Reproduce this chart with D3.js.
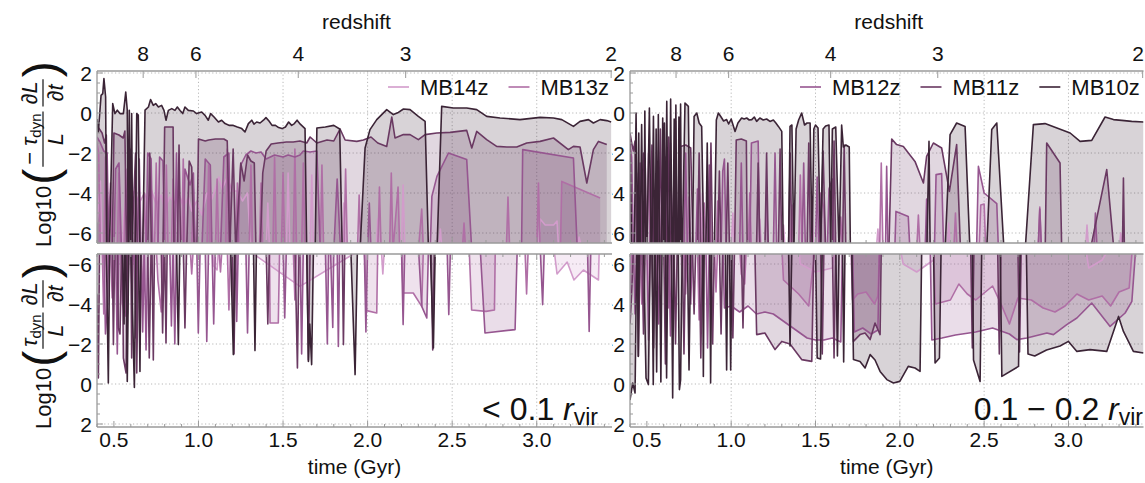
<!DOCTYPE html>
<html>
<head>
<meta charset="utf-8">
<script src="https://cdn.jsdelivr.net/npm/d3@7"></script>
<style>
  body { margin: 0; background: #fff; }
  svg text { font-family: "Liberation Sans", Arial, Helvetica, sans-serif; fill: #111; }
</style>
</head>
<body>
<svg id="chart" width="1145" height="483"></svg>
<script>
// --- data ---
const O = -9; // below the plotted range (line runs off the inner edge)

const seriesNames = ["MB14z", "MB13z", "MB12z", "MB11z", "MB10z"];
const seriesColors = ["#d29ccb", "#b06fa6", "#965690", "#6a3962", "#3b2436"];

const timeTicks = [0.5, 1.0, 1.5, 2.0, 2.5, 3.0];
const timeGrid = [1.0, 1.5, 2.0, 2.5, 3.0];
const redshiftLabels = [8, 6, 4, 3, 2];
const redshiftTimes = [0.673, 0.985, 1.59, 2.225, 3.44];
const logTicks = [2, 0, -2, -4, -6];

// left panel (< 0.1 rvir), upper half: log10(-tau dL/dt / L)
const leftTopMB14 = [[0.40,-5.5],[0.42,-3.4],[0.43,O],[0.46,O],[0.47,-5.8],[0.50,-5.9],[0.51,O],[0.55,O],[0.56,-5.0],[0.58,-4.1],[0.60,-4.3],[0.62,-3.9],[0.65,-4.5],[0.68,-4.0],[0.70,-4.4],[0.72,-3.8],[0.75,-4.6],[0.78,-4.1],[0.80,-4.8],[0.83,-4.2],[0.86,-4.5],[0.88,-3.9],[0.91,-4.7],[0.94,-4.2],[0.96,-4.9],[0.99,-4.4],[1.02,-5.1],[1.05,-4.0],[1.08,-4.3],[1.12,-3.2],[1.14,-3.8],[1.17,-3.2],[1.20,-3.9],[1.23,-3.9],[1.26,-4.4],[1.29,-4.0],[1.31,O],[1.40,O],[1.41,-4.5],[1.42,O],[1.52,O],[1.53,-3.0],[1.54,O],[1.66,O],[1.67,-3.1],[1.68,O],[1.85,O],[1.86,-4.5],[1.87,O],[2.05,O],[2.06,-5.3],[2.07,O],[2.20,O],[2.21,-3.6],[2.22,O],[2.42,O],[2.43,-5.8],[2.44,O],[3.01,O],[3.02,-5.3],[3.05,-5.6],[3.10,-5.6],[3.12,-5.4],[3.13,O],[3.24,O],[3.25,-6.2],[3.27,O]];
const leftTopMB13 = [[0.40,-1.5],[0.41,-2.0],[0.42,O],[0.44,O],[0.45,-2.2],[0.46,O],[0.48,-3.5],[0.49,O],[0.52,O],[0.53,-3.0],[0.54,O],[0.56,O],[0.57,-2.8],[0.58,O],[0.62,O],[0.63,-3.2],[0.64,O],[0.67,O],[0.68,-4.0],[0.69,O],[0.74,O],[0.75,-2.5],[0.76,O],[0.80,O],[0.81,-2.6],[0.82,O],[0.84,O],[0.85,-3.3],[0.86,O],[0.90,O],[0.91,-2.3],[0.92,O],[0.96,O],[0.97,-3.8],[0.98,O],[1.05,O],[1.06,-2.6],[1.07,O],[1.10,O],[1.11,-3.3],[1.12,O],[1.16,O],[1.17,-1.8],[1.18,O],[1.22,O],[1.23,-3.5],[1.24,O],[1.30,O],[1.31,-2.6],[1.32,O],[1.36,O],[1.37,-3.5],[1.38,O],[1.44,O],[1.45,-2.2],[1.46,O],[1.49,O],[1.50,-3.0],[1.51,O],[1.56,O],[1.57,-1.8],[1.58,O],[1.61,O],[1.62,-2.5],[1.63,O],[1.72,O],[1.73,-2.6],[1.74,O],[1.86,O],[1.87,-2.8],[1.88,O],[1.94,O],[1.95,-4.1],[1.96,O],[2.06,O],[2.07,-3.7],[2.08,O],[2.13,O],[2.14,-3.0],[2.15,O],[2.18,-3.7],[2.19,O],[2.30,O],[2.32,-4.8],[2.33,O],[2.56,O],[2.57,-5.5],[2.58,O],[2.82,O],[2.83,-4.2],[2.84,O],[3.00,O],[3.01,-3.5],[3.02,O],[3.14,O],[3.148,-3.42],[3.375,-4.25]];
const leftTopMB12 = [[0.40,-1.2],[0.42,-1.5],[0.44,-1.9],[0.46,-2.0],[0.47,O],[0.50,O],[0.51,-2.8],[0.53,-2.5],[0.545,O],[0.58,O],[0.59,-1.8],[0.60,O],[0.64,O],[0.65,-2.3],[0.66,O],[0.69,O],[0.70,-2.0],[0.72,-2.3],[0.73,O],[0.76,O],[0.77,-2.2],[0.79,-2.4],[0.80,O],[0.86,O],[0.87,-2.0],[0.88,O],[0.91,O],[0.92,-2.8],[0.95,-3.6],[0.97,-3.0],[0.98,O],[1.02,O],[1.04,-2.3],[1.07,-2.6],[1.08,O],[1.13,O],[1.15,-2.2],[1.18,-2.0],[1.19,O],[1.23,O],[1.25,-2.6],[1.28,-2.1],[1.31,-1.9],[1.34,-2.0],[1.37,-1.95],[1.40,-2.3],[1.45,-2.1],[1.50,-2.2],[1.53,-2.1],[1.57,-2.2],[1.60,-2.1],[1.62,-1.9],[1.66,-1.95],[1.70,-1.9],[1.72,O],[1.80,O],[1.82,-3.3],[1.84,O],[2.00,O],[2.01,-4.5],[2.02,O],[2.37,O],[2.38,-4.17],[2.41,-3.17],[2.478,-2.0],[2.586,-2.33],[2.616,O],[2.91,O],[2.917,-1.83],[3.217,-2.25],[3.24,O]];
const leftTopMB11 = [[0.40,-0.6],[0.41,-0.75],[0.43,-1.0],[0.445,-1.5],[0.455,-1.1],[0.465,O],[0.49,O],[0.50,-1.0],[0.53,-1.1],[0.555,-1.25],[0.565,-0.9],[0.575,O],[0.595,-1.8],[0.605,O],[0.628,-2.0],[0.638,O],[0.70,O],[0.712,-2.0],[0.722,O],[0.79,O],[0.80,-0.7],[0.85,-0.7],[0.855,O],[0.875,O],[0.885,-1.6],[0.895,O],[0.93,O],[0.945,-2.4],[0.96,-2.7],[0.975,O],[0.99,O],[1.0,-1.3],[1.04,-1.4],[1.06,-1.35],[1.10,-1.3],[1.15,-1.3],[1.17,-1.4],[1.185,O],[1.205,-1.8],[1.22,O],[1.25,-2.5],[1.27,-3.4],[1.29,-2.1],[1.31,-2.4],[1.33,-2.5],[1.34,O],[1.365,O],[1.38,-3.0],[1.40,-1.9],[1.43,-1.55],[1.47,-1.5],[1.52,-1.45],[1.56,-1.45],[1.60,-1.4],[1.64,-1.5],[1.66,-1.2],[1.70,-1.5],[1.76,-1.35],[1.80,-1.4],[1.837,-0.8],[1.867,-1.35],[1.936,-1.42],[1.975,-1.35],[2.02,-1.2],[2.06,-1.5],[2.113,-1.67],[2.143,-0.2],[2.162,-1.25],[2.212,-1.08],[2.251,-1.08],[2.30,-1.33],[2.34,-1.08],[2.409,-1.0],[2.488,-0.97],[2.586,-0.87],[2.616,-1.75],[2.645,-0.92],[2.704,-1.33],[2.763,-1.67],[2.823,-1.7],[2.882,-1.7],[2.941,-1.5],[3.02,-1.42],[3.099,-1.25],[3.187,-1.83],[3.217,-1.67],[3.256,-1.7],[3.296,-3.5],[3.335,-1.83],[3.365,-1.42],[3.414,-1.58]];
const leftTopMB10 = [[0.40,-0.3],[0.408,-0.95],[0.424,0.88],[0.434,0.97],[0.441,1.72],[0.451,0.8],[0.457,O],[0.473,O],[0.493,0.47],[0.506,-0.03],[0.52,0.14],[0.536,-0.03],[0.556,-0.03],[0.57,1.05],[0.579,0.14],[0.585,O],[0.591,0.14],[0.597,O],[0.605,-0.03],[0.611,O],[0.625,O],[0.635,-0.03],[0.644,-0.1],[0.654,O],[0.670,O],[0.684,0.14],[0.704,0.3],[0.717,0.67],[0.733,0.38],[0.747,0.47],[0.763,0.3],[0.782,0.38],[0.796,0.13],[0.808,-0.36],[0.822,0.13],[0.842,0.22],[0.861,0.13],[0.875,0.3],[0.891,0.13],[0.907,-0.03],[0.92,0.3],[0.94,0.13],[0.97,0.1],[0.989,-0.03],[1.019,0.05],[1.039,-0.12],[1.058,-0.36],[1.072,-0.03],[1.092,-0.2],[1.118,-0.45],[1.137,-0.36],[1.157,-0.53],[1.183,-0.62],[1.206,-0.62],[1.23,-0.7],[1.256,-0.78],[1.275,-0.95],[1.295,-0.53],[1.315,-0.36],[1.328,-0.56],[1.344,-0.45],[1.364,-0.5],[1.384,-0.36],[1.399,-0.23],[1.417,-0.4],[1.435,-0.62],[1.455,-0.62],[1.474,-0.73],[1.494,-0.78],[1.514,-0.7],[1.533,-0.45],[1.551,-0.62],[1.567,-0.53],[1.583,-0.36],[1.602,-0.56],[1.63,-0.78],[1.64,O],[1.69,O],[1.70,-0.75],[1.75,-0.7],[1.80,-0.62],[1.835,-0.8],[1.85,O],[1.955,O],[1.985,-1.75],[2.014,-0.83],[2.054,-0.33],[2.113,0.17],[2.152,-0.08],[2.182,0.03],[2.212,0.2],[2.251,0.17],[2.30,-0.17],[2.34,-0.42],[2.36,O],[2.41,O],[2.438,0.33],[2.507,0.25],[2.586,0.25],[2.645,0.17],[2.704,-0.17],[2.783,-0.25],[2.901,-0.33],[3.02,-0.22],[3.099,-0.25],[3.148,-0.33],[3.217,-0.67],[3.256,-0.42],[3.306,-0.33],[3.335,-0.5],[3.375,-0.33],[3.414,-0.38],[3.44,-0.45]];

// left panel, lower half: log10(+tau dL/dt / L)
const leftBotMB14 = [[0.40,O],[0.46,O],[0.47,-5.5],[0.48,O],[0.60,O],[0.61,-6.0],[0.63,O],[1.08,O],[1.09,-5.9],[1.11,-5.7],[1.12,O],[1.325,-6.5],[1.60,-4.88],[1.916,-6.5],[2.08,O],[2.09,-5.5],[2.10,O],[3.10,O],[3.12,-5.5],[3.18,-6.1],[3.22,-5.2],[3.276,-5.7],[3.365,-5.2],[3.37,O]];
const leftBotMB13 = [[0.40,O],[0.43,O],[0.44,-3.5],[0.45,O],[0.48,O],[0.49,-4.3],[0.50,O],[0.54,O],[0.55,-4.0],[0.57,-3.4],[0.58,O],[0.66,O],[0.67,-4.2],[0.68,O],[0.75,O],[0.76,-5.2],[0.78,-3.6],[0.79,O],[0.95,O],[0.96,-5.5],[0.97,O],[1.12,O],[1.13,-5.6],[1.14,O],[1.17,O],[1.18,-3.7],[1.19,O],[1.42,O],[1.423,-3.05],[1.472,-3.05],[1.48,O],[1.56,O],[1.57,-4.2],[1.58,O],[1.98,O],[1.995,-3.67],[2.054,-3.55],[2.06,O],[2.20,O],[2.21,-4.55],[2.27,-4.55],[2.32,-3.88],[2.33,O],[2.60,O],[2.615,-3.7],[2.70,-3.63],[2.75,-3.7],[2.755,O],[2.93,O],[2.94,-4.5],[2.95,O]];
const leftBotMB12 = [[0.40,O],[0.44,O],[0.45,-2.5],[0.46,-3.8],[0.47,O],[0.51,O],[0.52,-1.5],[0.53,O],[0.57,O],[0.58,-3.5],[0.59,O],[0.62,O],[0.63,-2.3],[0.64,O],[0.66,O],[0.67,-2.6],[0.68,O],[0.69,-1.7],[0.70,O],[0.83,O],[0.84,-2.9],[0.85,O],[0.86,-2.0],[0.87,O],[0.99,O],[0.999,-2.55],[1.01,O],[1.04,O],[1.049,-2.13],[1.06,O],[1.08,O],[1.09,-3.0],[1.10,O],[1.22,O],[1.226,-3.13],[1.235,O],[1.28,O],[1.29,-2.55],[1.30,O],[1.50,O],[1.51,-3.3],[1.52,O],[1.60,O],[1.61,-1.5],[1.62,O],[1.75,O],[1.762,-2.0],[1.77,O],[1.78,O],[1.794,-2.83],[1.80,O],[1.82,O],[1.827,-1.88],[1.835,O],[1.98,O],[1.99,-2.6],[2.0,O],[2.20,O],[2.21,-2.97],[2.22,O],[2.30,O],[2.32,-3.88],[2.35,-3.3],[2.36,O],[2.47,O],[2.48,-3.47],[2.49,O],[2.665,O],[2.694,-2.55],[2.872,-2.72],[2.885,O],[3.02,O],[3.035,-3.97],[3.045,O],[3.30,O],[3.31,-2.63],[3.32,O]];
const leftBotMB11 = [[0.40,-4.5],[0.408,-0.3],[0.415,O],[0.49,O],[0.497,-1.97],[0.505,O],[0.52,O],[0.526,-2.8],[0.536,-2.5],[0.546,O],[0.55,O],[0.556,-1.3],[0.572,-0.55],[0.58,O],[0.60,O],[0.605,-1.3],[0.612,O],[0.63,O],[0.635,-0.55],[0.645,O],[0.70,O],[0.709,-1.3],[0.72,O],[0.725,O],[0.733,-1.2],[0.74,O],[0.78,O],[0.788,-2.55],[0.797,O],[0.80,O],[0.808,-2.05],[0.815,O],[0.91,O],[0.92,-2.8],[0.93,O],[1.20,O],[1.21,-1.5],[1.22,O],[1.40,O],[1.41,-3.0],[1.42,O],[1.57,O],[1.585,-0.8],[1.595,O],[1.64,O],[1.65,-1.2],[1.66,O],[1.85,O],[1.857,-1.97],[1.865,O],[2.375,O],[2.385,-1.7],[2.395,O]];
const leftBotMB10 = [[0.40,O],[0.455,O],[0.467,-0.05],[0.475,O],[0.55,O],[0.56,-3.0],[0.565,O],[0.57,O],[0.579,-0.13],[0.588,O],[0.60,O],[0.621,0.17],[0.63,O],[0.645,O],[0.654,-0.63],[0.66,O],[0.87,O],[0.881,-1.97],[0.89,O],[1.19,O],[1.206,-1.47],[1.215,O],[1.325,O],[1.334,-1.67],[1.343,O],[1.64,O],[1.65,-1.13],[1.658,-3.0],[1.669,-0.97],[1.68,O],[1.90,O],[1.926,-0.47],[1.94,O],[2.37,O],[2.389,-1.8],[2.40,O]];

// right panel (0.1 - 0.2 rvir), upper half
const rightTopMB14 = [[0.40,-3.0],[0.41,O],[0.48,O],[0.49,-4.0],[0.50,O],[0.58,O],[0.59,-3.5],[0.60,O],[0.68,O],[0.69,-4.5],[0.70,O],[0.82,O],[0.83,-4.0],[0.84,O],[1.00,O],[1.01,-5.0],[1.02,O],[1.16,O],[1.17,-5.3],[1.18,O],[1.30,O],[1.31,-5.6],[1.32,O],[1.47,O],[1.48,-5.0],[1.49,O],[1.86,O],[1.87,-5.8],[1.88,O],[2.28,O],[2.29,-5.5],[2.30,O],[3.10,O],[3.11,-5.6],[3.12,O],[3.30,O],[3.31,-6.0],[3.32,O]];
const rightTopMB13 = [[0.40,-2.0],[0.41,O],[0.44,O],[0.45,-3.0],[0.46,O],[0.50,O],[0.51,-2.0],[0.52,O],[0.56,O],[0.57,-3.5],[0.58,O],[0.63,O],[0.64,-1.5],[0.65,O],[0.74,O],[0.75,-4.2],[0.76,O],[0.83,O],[0.84,-4.5],[0.85,O],[0.91,O],[0.92,-4.4],[0.93,O],[1.10,O],[1.11,-4.0],[1.12,O],[1.20,O],[1.21,-4.5],[1.22,O],[1.35,O],[1.36,-4.6],[1.37,O],[1.40,O],[1.41,-3.1],[1.42,O],[1.52,O],[1.53,-4.0],[1.55,-4.8],[1.56,O],[1.64,O],[1.65,-5.2],[1.66,O],[1.88,O],[1.89,-2.5],[1.90,O],[2.10,O],[2.11,-5.1],[2.12,O],[2.32,O],[2.33,-5.0],[2.34,O],[2.47,O],[2.48,-4.6],[2.50,-4.55],[2.51,O],[2.82,O],[2.83,-4.7],[2.84,O]];
const rightTopMB12 = [[0.40,-1.5],[0.41,-2.2],[0.42,O],[0.45,O],[0.46,-2.5],[0.47,O],[0.52,O],[0.53,-3.0],[0.54,O],[0.60,O],[0.61,-2.2],[0.62,O],[0.65,O],[0.66,-3.5],[0.67,O],[0.72,O],[0.73,-2.0],[0.74,O],[0.79,O],[0.80,-3.8],[0.81,O],[0.86,O],[0.87,-2.6],[0.88,O],[0.94,O],[0.95,-2.9],[0.96,-2.3],[0.97,O],[1.05,O],[1.06,-2.5],[1.07,O],[1.11,O],[1.12,-1.5],[1.16,-1.4],[1.17,O],[1.25,O],[1.26,-2.0],[1.27,O],[1.42,O],[1.43,-2.5],[1.44,O],[1.50,O],[1.51,-3.2],[1.52,O],[1.57,O],[1.58,-3.8],[1.60,-3.3],[1.61,O],[1.915,O],[1.922,-2.67],[1.93,O],[1.97,O],[1.977,-4.92],[2.05,-5.17],[2.06,O],[2.15,O],[2.159,-4.3],[2.165,O],[2.205,O],[2.215,-3.08],[2.248,-3.03],[2.26,O],[2.455,O],[2.466,-2.67],[2.50,-4.0],[2.575,-4.53],[2.585,O],[2.82,O],[2.83,-4.8],[2.84,O],[3.15,O],[3.16,-5.0],[3.17,O]];
const rightTopMB11 = [[0.40,-1.0],[0.41,-1.5],[0.42,-1.9],[0.43,-1.4],[0.44,O],[0.47,O],[0.48,-2.0],[0.49,-2.6],[0.50,O],[0.52,O],[0.53,-1.6],[0.54,O],[0.57,O],[0.58,-0.8],[0.59,O],[0.62,O],[0.63,-1.2],[0.64,O],[0.66,O],[0.67,-0.4],[0.68,O],[0.695,O],[0.70,-1.67],[0.73,-1.6],[0.76,-1.75],[0.775,O],[0.80,O],[0.81,-2.0],[0.82,O],[0.87,O],[0.88,-1.5],[0.89,O],[0.92,O],[0.93,-2.9],[0.94,O],[0.97,O],[0.98,-2.5],[0.99,O],[1.02,O],[1.03,-1.35],[1.06,-1.3],[1.09,-1.4],[1.095,O],[1.15,O],[1.16,-2.5],[1.17,O],[1.20,O],[1.21,-2.0],[1.22,O],[1.28,O],[1.29,-1.8],[1.30,O],[1.34,O],[1.35,-2.0],[1.36,O],[1.45,O],[1.46,-1.5],[1.47,O],[1.53,O],[1.545,-1.9],[1.56,O],[1.60,O],[1.61,-1.4],[1.62,O],[1.66,O],[1.67,-1.6],[1.68,O],[1.935,O],[1.952,-1.3],[1.981,-1.58],[2.021,-1.67],[2.09,-2.42],[2.14,-3.5],[2.159,-2.17],[2.199,-1.5],[2.248,-1.75],[2.294,-3.92],[2.337,-1.58],[2.36,O],[2.862,O],[2.871,-1.5],[2.95,-2.5],[2.96,O],[3.128,O],[3.227,-2.83],[3.27,O],[3.32,O],[3.326,-3.25],[3.332,O]];
const rightTopMB10 = [[0.40,-1.3],[0.41,O],[0.425,O],[0.436,0.0],[0.445,O],[0.448,O],[0.452,-1.0],[0.456,O],[0.46,O],[0.469,-0.58],[0.478,O],[0.482,O],[0.488,0.1],[0.494,O],[0.50,O],[0.515,0.25],[0.525,O],[0.53,O],[0.539,-0.17],[0.546,O],[0.55,O],[0.555,-0.8],[0.56,O],[0.562,O],[0.568,-0.08],[0.576,O],[0.586,O],[0.594,-0.25],[0.598,O],[0.60,O],[0.604,-0.5],[0.608,O],[0.61,O],[0.618,0.58],[0.626,O],[0.633,O],[0.641,0.7],[0.649,O],[0.655,O],[0.662,-0.3],[0.668,O],[0.672,0.4],[0.678,O],[0.685,O],[0.69,-0.2],[0.695,O],[0.70,0.45],[0.705,O],[0.71,O],[0.726,0.5],[0.746,0.33],[0.756,O],[0.77,O],[0.78,-0.17],[0.796,0.0],[0.81,-0.5],[0.825,-0.67],[0.838,O],[0.85,O],[0.858,-1.5],[0.866,O],[0.90,O],[0.912,-0.35],[0.924,0.0],[0.94,-0.2],[0.955,-0.4],[0.973,-0.33],[0.985,-0.55],[1.0,-0.3],[1.023,-0.92],[1.04,-0.5],[1.062,-0.25],[1.077,-0.3],[1.092,-0.25],[1.107,-0.35],[1.122,-0.33],[1.137,-0.2],[1.151,-0.42],[1.17,-0.25],[1.19,-0.35],[1.21,-0.3],[1.23,-0.42],[1.25,-0.35],[1.265,-0.5],[1.28,-0.67],[1.30,-0.92],[1.309,O],[1.34,O],[1.349,-0.67],[1.36,-0.6],[1.372,O],[1.385,-0.8],[1.40,-0.35],[1.418,0.0],[1.435,-0.6],[1.45,-0.5],[1.468,-0.5],[1.48,O],[1.49,-0.8],[1.50,-0.6],[1.515,-0.75],[1.53,O],[1.545,-0.8],[1.56,-0.65],[1.58,-0.6],[1.59,O],[1.60,-0.8],[1.62,-0.7],[1.64,O],[1.655,-0.6],[1.665,-1.7],[1.68,-1.6],[1.70,-1.7],[1.707,O],[2.16,O],[2.173,-1.42],[2.18,O],[2.268,O],[2.298,-1.08],[2.337,-0.5],[2.387,-0.67],[2.416,O],[2.515,O],[2.545,-0.83],[2.575,-0.5],[2.618,O],[2.743,O],[2.792,-0.58],[2.861,-0.53],[3.01,-1.0],[3.069,-1.42],[3.138,-1.37],[3.217,-0.2],[3.267,-0.33],[3.316,-0.37],[3.375,-0.42],[3.445,-0.45]];

// right panel, lower half
const rightBotMB14 = [[0.40,O],[0.50,O],[0.51,-5.0],[0.52,O],[0.70,O],[0.71,-5.5],[0.72,O],[1.40,O],[1.41,-6.0],[1.50,-5.6],[1.60,-5.8],[1.62,O],[2.00,O],[2.02,-6.0],[2.10,-5.6],[2.20,-6.2],[2.22,O],[3.10,O],[3.12,-5.8],[3.20,-6.2],[3.25,O]];
const rightBotMB13 = [[0.40,-4.5],[0.41,O],[0.46,O],[0.47,-4.0],[0.48,O],[0.55,O],[0.56,-4.8],[0.57,O],[0.62,O],[0.63,-3.8],[0.64,O],[0.72,O],[0.73,-4.5],[0.74,O],[0.80,O],[0.81,-3.2],[0.82,O],[0.90,O],[0.91,-4.6],[0.92,O],[1.05,O],[1.06,-5.5],[1.08,-5.0],[1.09,O],[1.30,O],[1.31,-5.2],[1.40,-4.5],[1.46,-3.9],[1.48,-5.5],[1.50,O],[1.71,O],[1.72,-4.2],[1.75,-4.5],[1.80,-4.6],[1.85,-4.0],[1.87,-4.4],[1.88,O],[2.20,O],[2.21,-4.0],[2.30,-4.2],[2.35,-5.0],[2.40,-4.5],[2.45,-4.2],[2.55,-4.9],[2.60,-4.0],[2.65,-3.0],[2.70,-4.3],[2.78,-4.2],[2.85,-3.8],[2.92,-3.6],[2.98,-3.9],[3.05,-4.5],[3.12,-4.2],[3.20,-4.4],[3.25,-3.9],[3.30,-4.6],[3.36,-4.8],[3.38,O]];
const rightBotMB12 = [[0.40,O],[0.42,O],[0.43,-3.5],[0.44,O],[0.50,O],[0.51,-2.2],[0.52,O],[0.56,O],[0.57,-3.0],[0.58,O],[0.63,O],[0.64,-2.4],[0.65,O],[0.75,O],[0.76,-4.0],[0.77,O],[0.85,O],[0.86,-1.8],[0.87,O],[0.95,O],[0.96,-3.8],[1.00,-3.9],[1.05,-3.6],[1.10,-3.9],[1.15,-3.5],[1.20,-3.6],[1.25,-3.5],[1.30,-3.2],[1.35,-2.9],[1.40,-2.6],[1.45,-2.3],[1.50,-2.2],[1.55,-2.2],[1.60,-2.3],[1.65,-2.1],[1.66,O],[1.72,O],[1.73,-2.6],[1.78,-2.8],[1.83,-2.5],[1.87,-2.7],[1.88,O],[2.18,O],[2.19,-2.2],[2.25,-2.3],[2.33,-2.45],[2.45,-2.6],[2.55,-2.8],[2.65,-2.5],[2.694,-2.22],[2.753,-2.3],[2.872,-2.55],[2.911,-2.47],[2.99,-2.97],[3.05,-3.3],[3.138,-4.05],[3.247,-2.88],[3.336,-3.55],[3.376,-4.13],[3.40,O]];
const rightBotMB11 = [[0.40,-3.0],[0.41,-4.5],[0.42,O],[0.44,O],[0.45,-1.4],[0.46,O],[0.47,O],[0.48,-2.5],[0.49,O],[0.53,O],[0.54,-1.8],[0.55,O],[0.60,O],[0.61,-1.0],[0.62,O],[0.66,O],[0.67,-2.0],[0.68,O],[0.71,O],[0.72,-1.5],[0.73,O],[0.77,O],[0.78,-3.5],[0.79,O],[0.81,O],[0.82,-1.3],[0.83,O],[0.88,O],[0.89,-2.0],[0.90,O],[0.93,O],[0.94,-2.5],[0.95,O],[1.00,O],[1.01,-2.3],[1.02,O],[1.06,O],[1.07,-2.8],[1.08,O],[1.14,O],[1.151,-2.47],[1.20,-2.55],[1.26,-1.72],[1.30,-2.13],[1.349,-2.0],[1.418,-1.22],[1.478,-1.13],[1.49,O],[1.53,O],[1.54,-1.5],[1.55,O],[1.60,O],[1.61,-1.3],[1.62,O],[1.715,O],[1.725,-2.13],[1.764,-2.47],[1.794,-2.55],[1.824,-2.22],[1.853,-3.05],[1.883,-2.47],[1.89,O],[2.42,O],[2.43,-1.8],[2.44,O],[2.58,O],[2.59,-1.5],[2.60,O],[2.70,O],[2.71,-1.6],[2.72,O]];
const rightBotMB10 = [[0.40,0.8],[0.416,-0.05],[0.43,0.45],[0.44,O],[0.445,O],[0.449,-1.38],[0.455,O],[0.48,O],[0.495,-0.3],[0.509,0.03],[0.52,O],[0.53,O],[0.538,0.03],[0.545,O],[0.55,O],[0.558,-0.6],[0.565,O],[0.575,O],[0.583,-0.1],[0.59,O],[0.61,O],[0.617,-0.3],[0.625,O],[0.645,O],[0.653,0.7],[0.66,O],[0.685,O],[0.693,0.28],[0.70,-0.2],[0.71,O],[0.74,O],[0.75,-0.7],[0.76,O],[0.83,O],[0.835,-0.38],[0.84,O],[0.873,O],[0.878,-0.05],[0.885,O],[0.965,O],[0.973,-0.7],[0.98,O],[0.99,O],[0.997,-0.7],[1.005,O],[1.34,O],[1.349,-1.9],[1.36,O],[1.50,O],[1.51,-1.3],[1.53,-1.25],[1.54,O],[1.62,O],[1.63,-1.4],[1.64,O],[1.66,O],[1.667,-1.1],[1.675,O],[1.715,O],[1.725,-1.22],[1.764,-1.13],[1.794,-0.8],[1.824,-1.47],[1.853,-1.2],[1.883,-0.63],[1.923,-0.22],[1.962,-0.05],[2.0,-0.13],[2.05,-0.88],[2.09,-0.8],[2.12,-0.63],[2.13,O],[2.20,O],[2.209,-1.05],[2.235,-1.3],[2.245,O],[2.43,O],[2.437,-1.2],[2.476,-0.13],[2.486,O],[2.595,O],[2.605,-0.38],[2.704,-0.88],[2.714,O],[2.75,O],[2.76,-1.5],[2.80,-1.4],[2.87,-1.7],[2.95,-1.9],[3.0,-2.13],[3.05,-1.63],[3.128,-1.72],[3.227,-1.63],[3.297,-3.38],[3.326,-2.63],[3.385,-1.63],[3.445,-1.55]];

// --- layout ---
const svg = d3.select("#chart");
const halfTop = { y0: 71, y1: 243, domain: [-6.5, 2.1] };
const halfBot = { y0: 254, y1: 427, domain: [-6.5, 2.15] };

const panels = [
  { x0: 630, x1: 1143.5, label: "0.1 \u2212 0.2 ", labelX: 1143,
    top: [rightTopMB14, rightTopMB13, rightTopMB12, rightTopMB11, rightTopMB10],
    bot: [rightBotMB14, rightBotMB13, rightBotMB12, rightBotMB11, rightBotMB10],
    legend: [2, 3, 4], legendX: 800 },
  { x0: 97, x1: 612, label: "< 0.1 ", labelX: 598,
    top: [leftTopMB14, leftTopMB13, leftTopMB12, leftTopMB11, leftTopMB10],
    bot: [leftBotMB14, leftBotMB13, leftBotMB12, leftBotMB11, leftBotMB10],
    legend: [0, 1], legendX: 388 }
];

const frameColor = "#9a9a9a";
const gridColor = "#b8b8b8";

panels.forEach((p, pi) => {
  const x = d3.scaleLinear().domain([0.4, 3.445]).range([p.x0, p.x1]);
  const g = svg.append("g");

  [halfTop, halfBot].forEach((h, hi) => {
    const isTop = hi === 0;
    const y = d3.scaleLinear().domain(h.domain).range(isTop ? [h.y1, h.y0] : [h.y0, h.y1]);
    const edge = y(-6.5);
    const clipId = `clip${pi}${hi}`;
    svg.append("clipPath").attr("id", clipId)
      .append("rect").attr("x", p.x0).attr("y", h.y0).attr("width", p.x1 - p.x0).attr("height", h.y1 - h.y0);

    // white background (hides the minus signs of the panel on the right)
    g.append("rect").attr("x", p.x0).attr("y", h.y0).attr("width", p.x1 - p.x0).attr("height", h.y1 - h.y0)
      .attr("fill", "#fff");

    // grid
    g.append("g").selectAll("line").data(timeGrid).join("line")
      .attr("x1", d => x(d)).attr("x2", d => x(d)).attr("y1", h.y0).attr("y2", h.y1)
      .attr("stroke", gridColor).attr("stroke-dasharray", "1.2,2.4");
    g.append("g").selectAll("line").data(logTicks).join("line")
      .attr("x1", p.x0).attr("x2", p.x1).attr("y1", d => y(d)).attr("y2", d => y(d))
      .attr("stroke", gridColor).attr("stroke-dasharray", "1.2,2.4");

    const series = isTop ? p.top : p.bot;
    const vy = d => y(Math.max(d[1], -6.9));
    const area = d3.area().x(d => x(d[0])).y0(edge).y1(vy);
    const line = d3.line().x(d => x(d[0])).y(vy);
    const plot = g.append("g").attr("clip-path", `url(#${clipId})`);
    series.forEach((s, i) => {
      plot.append("path").attr("d", area(s)).attr("fill", seriesColors[i]).attr("fill-opacity", 0.2);
    });
    series.forEach((s, i) => {
      plot.append("path").attr("d", line(s)).attr("fill", "none")
        .attr("stroke", seriesColors[i]).attr("stroke-width", 1.6).attr("stroke-linejoin", "round");
    });

    // frame
    g.append("line").attr("x1", p.x0).attr("x2", p.x0).attr("y1", h.y0).attr("y2", h.y1)
      .attr("stroke", frameColor).attr("stroke-width", 1.3);
    [h.y0, h.y1].forEach(yy => g.append("line").attr("x1", p.x0).attr("x2", p.x1)
      .attr("y1", yy).attr("y2", yy).attr("stroke", frameColor).attr("stroke-width", 1.3));

    // y ticks (left side)
    const minor = d3.range(-6.5, h.domain[1] + 0.01, 0.5);
    g.append("g").selectAll("line").data(minor).join("line")
      .attr("x1", p.x0).attr("x2", d => p.x0 + (Number.isInteger(d / 2) ? 6 : 3))
      .attr("y1", d => y(d)).attr("y2", d => y(d)).attr("stroke", frameColor);
    g.append("g").selectAll("text").data(logTicks).join("text")
      .attr("x", p.x0 - 5).attr("y", d => y(d) + 7.5).attr("text-anchor", "end").attr("font-size", 21)
      .text(d => d < 0 ? "\u2212" + (-d) : d);

    // x ticks on the horizontal edges
    const xs = d3.range(0.4, 3.441, 0.1).map(d => Math.round(d * 10) / 10);
    const edges = isTop ? [{ yy: h.y1, dir: -1 }] : [{ yy: h.y0, dir: 1 }, { yy: h.y1, dir: -1 }];
    edges.forEach(e => {
      g.append("g").selectAll("line").data(xs).join("line")
        .attr("x1", d => x(d)).attr("x2", d => x(d)).attr("y1", e.yy)
        .attr("y2", d => e.yy + e.dir * (Math.abs(d * 2 - Math.round(d * 2)) < 1e-6 ? 6 : 3))
        .attr("stroke", frameColor);
    });
  });

  // redshift axis
  g.append("g").selectAll("line").data(redshiftTimes).join("line")
    .attr("x1", d => x(d)).attr("x2", d => x(d)).attr("y1", halfTop.y0).attr("y2", halfTop.y0 + 7)
    .attr("stroke", frameColor);
  g.append("g").selectAll("text").data(redshiftLabels).join("text")
    .attr("x", (d, i) => Math.min(x(redshiftTimes[i]), 1138)).attr("y", 61).attr("text-anchor", "middle")
    .attr("font-size", 21).text(d => d);
  const mid = (p.x0 + p.x1) / 2;
  g.append("text").attr("x", mid + 2).attr("y", 29).attr("text-anchor", "middle").attr("font-size", 21).text("redshift");

  // time axis
  g.append("g").selectAll("text").data(timeTicks).join("text")
    .attr("x", d => x(d)).attr("y", 447).attr("text-anchor", "middle").attr("font-size", 21)
    .text(d => d.toFixed(1));
  g.append("text").attr("x", mid).attr("y", 474).attr("text-anchor", "middle").attr("font-size", 21).text("time (Gyr)");

  // legend
  let lx = p.legendX;
  p.legend.forEach(i => {
    g.append("line").attr("x1", lx).attr("x2", lx + 21).attr("y1", 87).attr("y2", 87)
      .attr("stroke", seriesColors[i]).attr("stroke-width", 1.6);
    const t = g.append("text").attr("x", lx + 32).attr("y", 95).attr("font-size", 22).text(seriesNames[i]);
    lx += 32 + t.node().getComputedTextLength() + 20;
  });

  // region label
  const rl = g.append("text").attr("x", p.labelX).attr("y", 420).attr("text-anchor", "end").attr("font-size", 32);
  rl.append("tspan").text(p.label);
  rl.append("tspan").attr("font-style", "italic").text("r");
  rl.append("tspan").attr("font-size", 23).attr("dy", 5).text("vir");
});

// rotated y-axis labels:  Log10( (-) tau_dyn / L  dL / dt )
function yAxisLabel(cx, yStart, neg) {
  const g = svg.append("g").attr("transform", `translate(${cx},${yStart}) rotate(-90)`);
  let u = 0;
  const t1 = g.append("text").attr("x", u).attr("y", 5).attr("font-size", 22).text("Log10");
  u += t1.node().getComputedTextLength() + 1;
  const p1 = g.append("text").attr("x", u).attr("y", 11).attr("font-size", 48).attr("font-weight", 300).text("(");
  u += p1.node().getComputedTextLength() + 2;
  const frac = (num, den) => {
    const n = g.append("text").attr("y", -9).attr("font-size", 22).attr("text-anchor", "middle");
    num(n);
    const d = g.append("text").attr("y", 17).attr("font-size", 22).attr("text-anchor", "middle");
    den(d);
    const w = Math.max(n.node().getComputedTextLength(), d.node().getComputedTextLength()) + 4;
    n.attr("x", u + w / 2);
    d.attr("x", u + w / 2);
    g.append("line").attr("x1", u).attr("x2", u + w).attr("y1", -3).attr("y2", -3)
      .attr("stroke", "#111").attr("stroke-width", 1.2);
    u += w + 5;
  };
  frac(n => {
    if (neg) n.append("tspan").text("\u2212 ");
    n.append("tspan").attr("font-style", "italic").text("\u03c4");
    n.append("tspan").attr("font-size", 15).attr("dy", 4).text("dyn");
  }, d => d.append("tspan").attr("font-style", "italic").text("L"));
  frac(n => {
    n.append("tspan").text("\u2202");
    n.append("tspan").attr("font-style", "italic").text("L");
  }, d => {
    d.append("tspan").text("\u2202");
    d.append("tspan").attr("font-style", "italic").text("t");
  });
  g.append("text").attr("x", u - 3).attr("y", 11).attr("font-size", 48).attr("font-weight", 300).text(")");
}
yAxisLabel(46, 247, true);
yAxisLabel(46, 429, false);
</script>
</body>
</html>
